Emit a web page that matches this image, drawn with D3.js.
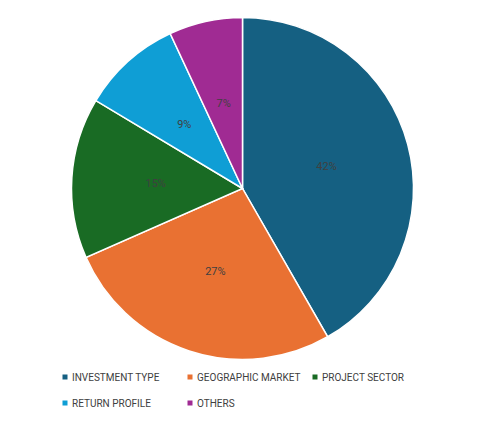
<!DOCTYPE html>
<html>
<head>
<meta charset="utf-8">
<script src="https://cdn.jsdelivr.net/npm/d3@7"></script>
<style>
  body { margin: 0; background: #fff; }
</style>
</head>
<body>
<script>
// shares by category; labels as printed on the chart
var categories = ["INVESTMENT TYPE", "GEOGRAPHIC MARKET", "PROJECT SECTOR", "RETURN PROFILE", "OTHERS"];
var shares = [41.7, 26.7, 15.2, 9.45, 6.95];
var shareLabels = ["42%", "27%", "15%", "9%", "7%"];
var colors = ["#156082", "#E97132", "#196B24", "#0F9ED5", "#A02B93"];

function draw() {
    var w = 480;
    var h = 427;
    var svg = d3.select("body")
        .append("svg")
        .attr("width", w)
        .attr("height", h);

    var cx = 242.5, cy = 188.5;
    var outerRadius = 171;
    var arc = d3.arc().innerRadius(0).outerRadius(outerRadius);
    var labelArc = d3.arc().innerRadius(87).outerRadius(87);
    var pie = d3.pie().sort(null);
    var color = d3.scaleOrdinal().domain(categories).range(colors);

    var arcs = svg.selectAll("g.arc")
        .data(pie(shares))
        .enter()
        .append("g")
        .attr("class", "arc")
        .attr("transform", "translate(" + cx + "," + cy + ")");

    arcs.append("path")
        .attr("fill", function(d, i) { return color(categories[i]); })
        .attr("stroke", "#fff")
        .attr("stroke-width", 1.5)
        .attr("d", arc);

    arcs.append("text")
        .text(function(d, i) { return shareLabels[i]; })
        .attr("text-anchor", "middle")
        .attr("dy", "0.35em")
        .attr("font-family", "Roboto, 'Liberation Sans', sans-serif")
        .attr("font-size", 11)
        .attr("fill", "#404040")
        .attr("transform", function(d) { return "translate(" + labelArc.centroid(d) + ")"; });

    // legend: three per row
    var legendX = [65, 190, 315];
    var legendY = [377, 403];
    var legend = svg.selectAll("g.legend")
        .data(categories)
        .enter()
        .append("g")
        .attr("class", "legend")
        .attr("transform", function(d, i) {
            return "translate(" + legendX[i % 3] + "," + legendY[Math.floor(i / 3)] + ")";
        });

    legend.append("rect")
        .attr("x", -2.5)
        .attr("y", -2.5)
        .attr("width", 5)
        .attr("height", 5)
        .attr("fill", function(d) { return color(d); });

    legend.append("text")
        .text(function(d) { return d; })
        .attr("x", 7)
        .attr("dy", "0.36em")
        .attr("font-family", "Roboto, 'Liberation Sans', sans-serif")
        .attr("font-size", 10)
        .attr("fill", "#404040");
}

window.onload = draw;
</script>
</body>
</html>
